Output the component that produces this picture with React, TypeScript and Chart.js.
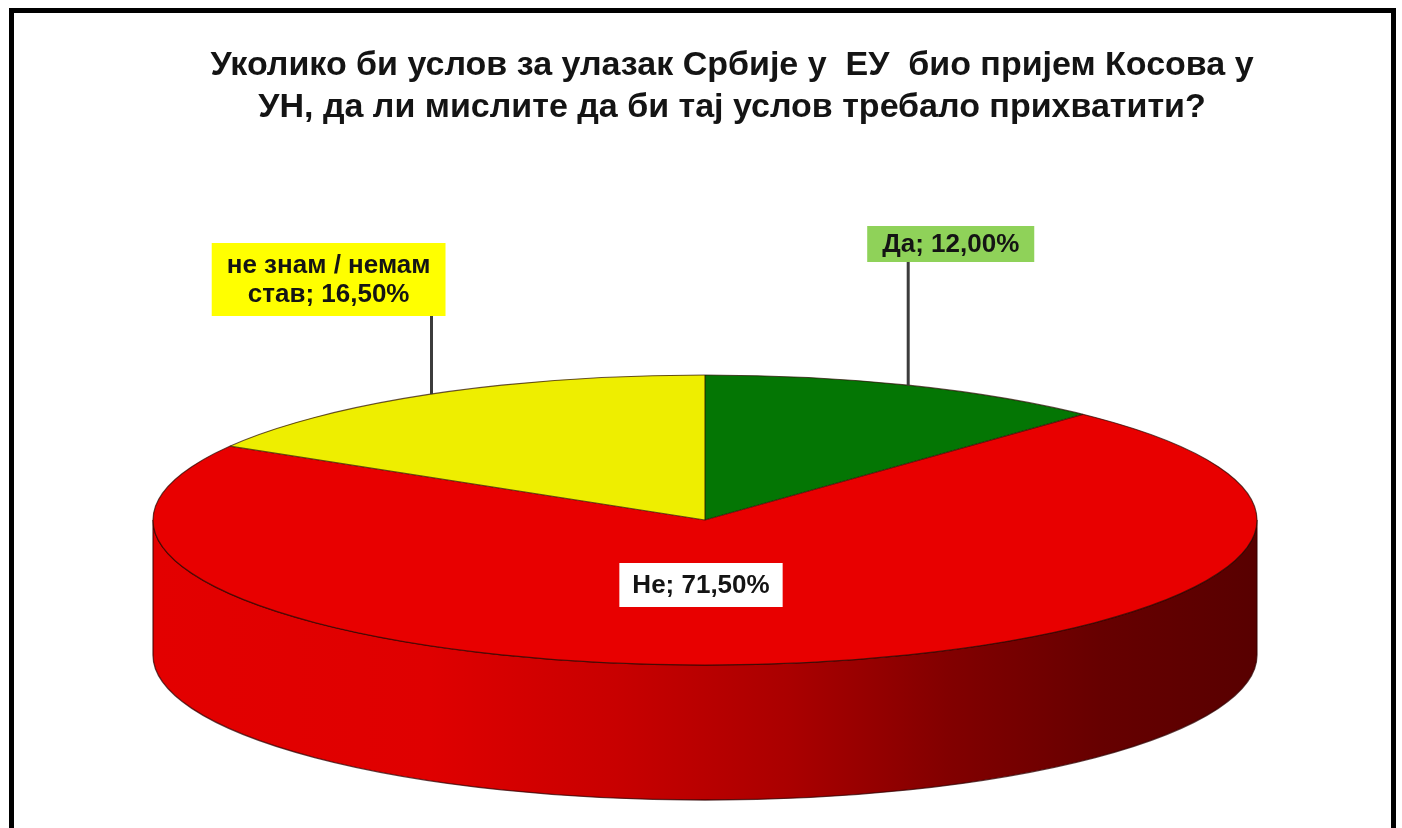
import React, { useEffect, useRef } from 'react';
import { Chart, registerables } from 'chart.js';

Chart.register(...registerables);

// ---- data ----
const categories = ['Да', 'Не', 'не знам / немам став'];
const values = [12.0, 71.5, 16.5];
const sliceColors = ['#047604', '#e80000', '#eeee00'];
const labelBoxColors = ['#8fd259', '#ffffff', '#ffff00'];
const titleLines = [
  'Уколико би услов за улазак Србије у  ЕУ  био пријем Косова у',
  'УН, да ли мислите да би тај услов требало прихватити?',
];

// ---- layout ----
const W = 1402;
const H = 828;
const CX = 705;
const CY = 520;
const RX = 552;
const RY = 145;
const DEPTH = 135;
const FONT = '"Liberation Sans", Arial, sans-serif';
const LABEL_FONT_SIZE = 26;
const LABEL_LINE_H = 29;
const LABEL_MAX_W = 240;

const fmt = (v: number) => v.toFixed(2).replace('.', ',') + '%';

function darken(hex: string, f: number) {
  const n = parseInt(hex.slice(1), 16);
  const r = Math.round(((n >> 16) & 255) * f);
  const g = Math.round(((n >> 8) & 255) * f);
  const b = Math.round((n & 255) * f);
  return `rgb(${r},${g},${b})`;
}

function wrap(ctx: CanvasRenderingContext2D, text: string, maxW: number) {
  const words = text.split(' ');
  const lines: string[] = [];
  let cur = '';
  for (const w of words) {
    const t = cur ? cur + ' ' + w : w;
    if (cur && ctx.measureText(t).width > maxW) {
      lines.push(cur);
      cur = w;
    } else cur = t;
  }
  if (cur) lines.push(cur);
  return lines;
}

function drawWall(ctx: CanvasRenderingContext2D, a1: number, a2: number, color: string) {
  const g = ctx.createLinearGradient(CX - RX, 0, CX + RX, 0);
  const stops: [number, number][] = [
    [0, 0.98], [0.25, 0.96], [0.42, 0.86], [0.58, 0.73], [0.72, 0.56], [0.86, 0.44], [1, 0.38],
  ];
  stops.forEach(([t, f]) => g.addColorStop(t, darken(color, f)));
  ctx.beginPath();
  ctx.ellipse(CX, CY, RX, RY, 0, a1, a2, false);
  ctx.lineTo(CX + RX * Math.cos(a2), CY + DEPTH + RY * Math.sin(a2));
  ctx.ellipse(CX, CY + DEPTH, RX, RY, 0, a2, a1, true);
  ctx.closePath();
  ctx.fillStyle = g;
  ctx.fill();
  ctx.lineWidth = 1.3;
  ctx.strokeStyle = 'rgba(50,0,0,0.75)';
  ctx.stroke();
}

function drawLabel(
  ctx: CanvasRenderingContext2D,
  lines: string[],
  cx: number,
  cy: number,
  padX: number,
  padY: number,
  bg: string
) {
  ctx.font = `bold ${LABEL_FONT_SIZE}px ${FONT}`;
  const tw = Math.max(...lines.map((l) => ctx.measureText(l).width));
  const bw = tw + padX * 2;
  const bh = lines.length * LABEL_LINE_H + padY * 2;
  ctx.fillStyle = bg;
  ctx.fillRect(cx - bw / 2, cy - bh / 2, bw, bh);
  ctx.fillStyle = '#141414';
  ctx.textAlign = 'center';
  ctx.textBaseline = 'middle';
  lines.forEach((l, i) => {
    ctx.fillText(l, cx, cy - bh / 2 + padY + LABEL_LINE_H * (i + 0.5) + 1);
  });
  return { bw, bh };
}

const pie3d = {
  id: 'pie3d',
  beforeDraw(chart: any) {
    const ctx = chart.ctx as CanvasRenderingContext2D;
    ctx.save();
    ctx.fillStyle = '#ffffff';
    ctx.fillRect(0, 0, chart.width, chart.height);
    ctx.fillStyle = '#000000';
    ctx.fillRect(9, 8, 5, chart.height - 8);
    ctx.fillRect(9, 8, 1387, 5);
    ctx.fillRect(1391, 8, 5, chart.height - 8);
    ctx.restore();
  },
  beforeDatasetsDraw(chart: any) {
    const ctx = chart.ctx as CanvasRenderingContext2D;
    const meta = chart.getDatasetMeta(0);
    ctx.save();
    meta.data.forEach((arc: any, i: number) => {
      for (const shift of [-2 * Math.PI, 0, 2 * Math.PI]) {
        const a1 = Math.max(arc.startAngle + shift, 0);
        const a2 = Math.min(arc.endAngle + shift, Math.PI);
        if (a2 > a1) drawWall(ctx, a1, a2, sliceColors[i]);
      }
    });
    ctx.restore();
    const a0 = meta.data[0];
    ctx.save();
    ctx.translate(CX, CY);
    ctx.scale(RX / a0.outerRadius, RY / a0.outerRadius);
    ctx.translate(-a0.x, -a0.y);
  },
  afterDatasetsDraw(chart: any) {
    const ctx = chart.ctx as CanvasRenderingContext2D;
    ctx.restore();
    const meta = chart.getDatasetMeta(0);
    // outlines of the top face
    ctx.save();
    ctx.lineWidth = 1.2;
    ctx.strokeStyle = 'rgba(40,10,0,0.7)';
    ctx.beginPath();
    ctx.ellipse(CX, CY, RX, RY, 0, 0, Math.PI * 2);
    ctx.stroke();
    meta.data.forEach((arc: any) => {
      ctx.beginPath();
      ctx.moveTo(CX, CY);
      ctx.lineTo(CX + RX * Math.cos(arc.startAngle), CY + RY * Math.sin(arc.startAngle));
      ctx.stroke();
    });
    ctx.restore();

    // labels
    ctx.save();
    meta.data.forEach((arc: any, i: number) => {
      const mid = (arc.startAngle + arc.endAngle) / 2;
      const ax = CX + RX * Math.cos(mid);
      const ay = CY + RY * Math.sin(mid);
      const text = `${categories[i]}; ${fmt(values[i])}`;
      ctx.font = `bold ${LABEL_FONT_SIZE}px ${FONT}`;
      const lines = wrap(ctx, text, LABEL_MAX_W);
      if (Math.sin(mid) > 0.5) {
        // label inside the large slice
        drawLabel(ctx, lines, CX - 4, CY + 65, 13, 7.5, labelBoxColors[i]);
      } else {
        const right = Math.cos(mid) > 0;
        const bottom = right ? 262 : 316;
        const padX = 15;
        const padY = right ? 3.5 : 7.5;
        ctx.font = `bold ${LABEL_FONT_SIZE}px ${FONT}`;
        const tw = Math.max(...lines.map((l) => ctx.measureText(l).width));
        const bw = tw + padX * 2;
        const bh = lines.length * LABEL_LINE_H + padY * 2;
        const bx = right ? ax - 41 + bw / 2 : ax + 14 - bw / 2;
        // leader line
        ctx.strokeStyle = '#3c3c3c';
        ctx.lineWidth = 3;
        ctx.beginPath();
        ctx.moveTo(ax, ay);
        ctx.lineTo(ax, bottom);
        ctx.stroke();
        drawLabel(ctx, lines, bx, bottom - bh / 2, padX, padY, labelBoxColors[i]);
      }
    });
    ctx.restore();
  },
};

export default function App() {
  const ref = useRef<HTMLCanvasElement | null>(null);
  useEffect(() => {
    if (!ref.current) return;
    const chart = new Chart(ref.current, {
      type: 'pie',
      data: {
        labels: categories,
        datasets: [
          {
            data: values,
            backgroundColor: sliceColors,
            borderWidth: 0,
            clip: false as any,
          } as any,
        ],
      },
      options: {
        animation: false,
        responsive: false,
        devicePixelRatio: 1,
        layout: { padding: { left: 62, top: 0, right: 0, bottom: 0 } },
        plugins: {
          legend: { display: false },
          tooltip: { enabled: false },
          title: {
            display: true,
            text: titleLines,
            color: '#141414',
            font: { family: FONT, size: 34, weight: 'bold', lineHeight: 42 / 34 },
            padding: { top: 45, bottom: 10 },
          },
        },
      },
      plugins: [pie3d],
    });
    return () => chart.destroy();
  }, []);
  return (
    <div style={{ position: 'absolute', left: 0, top: 0, width: W, height: H }}>
      <canvas ref={ref} width={W} height={H} style={{ display: 'block' }} />
    </div>
  );
}
